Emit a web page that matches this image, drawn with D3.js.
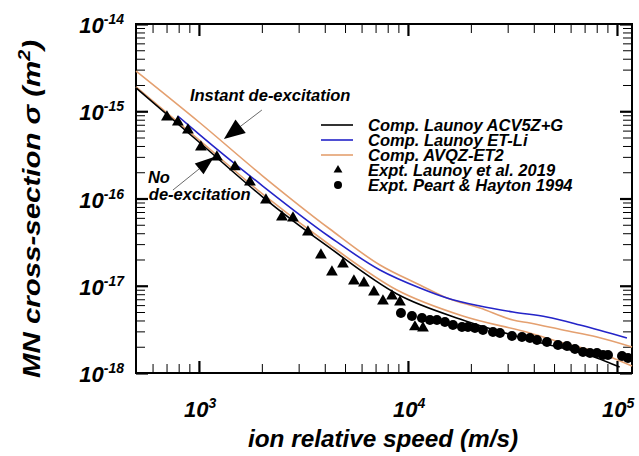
<!DOCTYPE html>
<html lang="en">
<head>
<meta charset="UTF-8">
<title>MN cross-section vs ion speed</title>
<script src="https://d3js.org/d3.v7.min.js"></script>
<style>
    body { margin: 0; background: #fff; }
    svg { display: block; }
    text { font-family: "Liberation Sans", Arial, sans-serif; font-weight: bold; font-style: italic; fill: #000; }
</style>
</head>
<body>
<svg id="chart" width="639" height="456"></svg>
<script>
// ion relative speed (m/s) and cross-section (m^2)
const acvSpeed = [500, 1000, 2020, 4230, 8860, 18300, 38300, 80200, 103000];
const acvSigma = [1.85e-15, 4.44e-16, 1.04e-16, 2.71e-17, 8.04e-18, 4.05e-18, 2.39e-18, 1.49e-18, 1.17e-18];

const etliSpeed = [793, 1000, 2020, 4230, 7345, 11410, 15370, 22110, 31800, 46240, 66530, 111600];
const etliSigma = [8.82e-16, 5.48e-16, 1.39e-16, 3.62e-17, 1.516e-17, 9.42e-18, 7.24e-18, 5.86e-18, 5.00e-18, 4.38e-18, 3.55e-18, 2.52e-18];

// AVQZ-ET2: upper curve = instant de-excitation, lower = no de-excitation
const avqzUpSpeed = [500, 1000, 2020, 4230, 7345, 11410, 15370, 22110, 31800, 38340, 55150, 80230, 118000];
const avqzUpSigma = [2.89e-15, 7.53e-16, 1.81e-16, 4.47e-17, 1.729e-17, 1.02e-17, 7.24e-18, 5.56e-18, 4.05e-18, 3.74e-18, 3.11e-18, 2.59e-18, 1.99e-18];
const avqzLowSpeed = [500, 1000, 2020, 4230, 8860, 18300, 38300, 55100, 80200, 118000];
const avqzLowSigma = [1.90e-15, 4.70e-16, 1.12e-16, 2.93e-17, 8.94e-18, 4.50e-18, 2.87e-18, 2.21e-18, 1.74e-18, 1.20e-18];

const launoySpeed = [703, 793, 886, 1022, 1219, 1487, 1754, 2092, 2495, 2818, 3323, 3834, 4329, 4887, 5514, 6159, 6877, 7594, 8385, 9157, 10800, 11800];
const launoySigma = [8.59e-16, 7.53e-16, 6.10e-16, 3.89e-16, 2.99e-16, 2.30e-16, 1.545e-16, 9.61e-17, 6.14e-17, 5.98e-17, 4.13e-17, 2.25e-17, 1.438e-17, 1.776e-17, 1.133e-17, 1.075e-17, 8.48e-18, 6.69e-18, 7.63e-18, 6.51e-18, 3.37e-18, 3.28e-18];

const peartSpeed = [9258, 10450, 11670, 12740, 13760, 15030, 16420, 18130, 19370, 20920, 22850, 25510, 27550, 31450, 35120, 38340, 41420, 46240, 52210, 57650, 62950, 68770, 74270, 80230, 85710, 90560, 105700, 112900];
const peartSigma = [4.87e-18, 4.50e-18, 4.27e-18, 4.05e-18, 4.05e-18, 3.84e-18, 3.55e-18, 3.37e-18, 3.37e-18, 3.28e-18, 3.11e-18, 2.95e-18, 2.87e-18, 2.66e-18, 2.59e-18, 2.52e-18, 2.39e-18, 2.27e-18, 2.09e-18, 2.04e-18, 1.88e-18, 1.74e-18, 1.695e-18, 1.695e-18, 1.61e-18, 1.61e-18, 1.566e-18, 1.485e-18];

const xMajor = [1e3, 1e4, 1e5];
const xMajorExp = ["3", "4", "5"];
const yMajor = [1e-18, 1e-17, 1e-16, 1e-15, 1e-14];
const yMajorExp = ["-18", "-17", "-16", "-15", "-14"];

const legendNames = ["Comp. Launoy ACV5Z+G", "Comp. Launoy ET-Li", "Comp. AVQZ-ET2", "Expt. Launoy et al. 2019", "Expt. Peart & Hayton 1994"];

const black = "#000", blue = "#2424c8", orange = "#e4a070";

const svg = d3.select("#chart");
const plotLeft = 136, plotRight = 632, plotTop = 24, plotBottom = 373;

const x = d3.scaleLog().domain([500, 118000]).range([plotLeft, plotRight]);
const y = d3.scaleLog().domain([1e-18, 1e-14]).range([plotBottom, plotTop]);

// minor ticks 2..9 in each decade inside the domain
const xMinor = [];
[100, 1000, 10000].forEach(d => { for (let k = 2; k < 10; k++) { const v = d * k; if (v > 500 && v < 118000) xMinor.push(v); } });
const yMinor = [];
[1e-18, 1e-17, 1e-16, 1e-15].forEach(d => { for (let k = 2; k < 10; k++) yMinor.push(d * k); });

function drawTicks(axis, transform, values, size, width) {
    const g = svg.append("g").attr("transform", transform)
        .call(axis.tickValues(values).tickSize(size).tickSizeOuter(0).tickFormat(""));
    g.select(".domain").remove();
    g.selectAll(".tick line").attr("stroke", "#000").attr("stroke-width", width);
}
// inward ticks on all four sides
drawTicks(d3.axisBottom(x), `translate(0,${plotBottom})`, xMinor, -9, 1);
drawTicks(d3.axisBottom(x), `translate(0,${plotBottom})`, xMajor, -12, 2.2);
drawTicks(d3.axisTop(x), `translate(0,${plotTop})`, xMinor, -9, 1);
drawTicks(d3.axisTop(x), `translate(0,${plotTop})`, xMajor, -12, 2.2);
drawTicks(d3.axisLeft(y), `translate(${plotLeft},0)`, yMinor, -9, 1);
drawTicks(d3.axisLeft(y), `translate(${plotLeft},0)`, yMajor, -12, 2.2);
drawTicks(d3.axisRight(y), `translate(${plotRight},0)`, yMinor, -9, 1);
drawTicks(d3.axisRight(y), `translate(${plotRight},0)`, yMajor, -12, 2.2);

svg.append("rect")
    .attr("x", plotLeft).attr("y", plotTop)
    .attr("width", plotRight - plotLeft).attr("height", plotBottom - plotTop)
    .attr("fill", "none").attr("stroke", "#000").attr("stroke-width", 2);

// tick labels: 10 with superscript exponent
xMajor.forEach((v, i) => {
    const t = svg.append("text").attr("x", x(v) - 15).attr("y", plotBottom + 44).attr("font-size", 22);
    t.append("tspan").text("10");
    t.append("tspan").attr("font-size", 14).attr("dy", -9).text(xMajorExp[i]);
});
yMajor.forEach((v, i) => {
    const t = svg.append("text").attr("x", 124).attr("y", y(v) + 9).attr("font-size", 22).attr("text-anchor", "end");
    t.append("tspan").text("10");
    t.append("tspan").attr("font-size", 14).attr("dy", -9).text(yMajorExp[i]);
});

// axis titles
svg.append("text")
    .attr("x", 248).attr("y", 447).attr("font-size", 23)
    .attr("textLength", 270).attr("lengthAdjust", "spacingAndGlyphs")
    .text("ion relative speed (m/s)");
const yt = svg.append("text")
    .attr("transform", "translate(40,378) rotate(-90)")
    .attr("font-size", 24)
    .attr("textLength", 338).attr("lengthAdjust", "spacingAndGlyphs");
yt.append("tspan").text("MN cross-section \u03c3 (m");
yt.append("tspan").attr("font-size", 16).attr("dy", -10).text("2");
yt.append("tspan").attr("dy", 10).text(")");

// curves
const line = d3.line().x(d => x(d[0])).y(d => y(d[1])).curve(d3.curveMonotoneX);
const curves = [
    [avqzUpSpeed, avqzUpSigma, orange],
    [avqzLowSpeed, avqzLowSigma, orange],
    [etliSpeed, etliSigma, blue],
    [acvSpeed, acvSigma, black]
];
curves.forEach(([vs, ss, c]) => {
    svg.append("path")
        .datum(d3.zip(vs, ss))
        .attr("d", line)
        .attr("fill", "none").attr("stroke", c).attr("stroke-width", 1.6);
});

// experimental points
svg.append("g").selectAll("path")
    .data(d3.zip(launoySpeed, launoySigma))
    .join("path")
    .attr("transform", d => `translate(${x(d[0])},${y(d[1])})`)
    .attr("d", d3.symbol(d3.symbolTriangle, 60))
    .attr("fill", "#000");
svg.append("g").selectAll("circle")
    .data(d3.zip(peartSpeed, peartSigma))
    .join("circle")
    .attr("cx", d => x(d[0])).attr("cy", d => y(d[1]))
    .attr("r", 5).attr("fill", "#000");

// annotations with arrows (positions in data units)
function arrow(from, to, len, half) {
    const x0 = x(from[0]), y0 = y(from[1]), x1 = x(to[0]), y1 = y(to[1]);
    const dx = x1 - x0, dy = y1 - y0, L = Math.hypot(dx, dy);
    const ux = dx / L, uy = dy / L;
    const bx = x1 - ux * len, by = y1 - uy * len;
    svg.append("line").attr("x1", x0).attr("y1", y0).attr("x2", bx).attr("y2", by)
        .attr("stroke", "#444").attr("stroke-width", 0.8);
    svg.append("path")
        .attr("d", `M${x1},${y1}L${bx - uy * half},${by + ux * half}L${bx + uy * half},${by - ux * half}Z`)
        .attr("fill", "#000");
}
arrow([2001, 1.033e-15], [1317, 4.81e-16], 21, 8.5);
arrow([751, 1.25e-16], [1180, 2.99e-16], 19, 7);

svg.append("text").attr("x", x(906)).attr("y", y(1.31e-15)).attr("font-size", 16.5).text("Instant de-excitation");
svg.append("text").attr("x", x(570)).attr("y", y(1.506e-16)).attr("font-size", 16.5).text("No");
svg.append("text").attr("x", x(576)).attr("y", y(9.61e-17)).attr("font-size", 16.5).text("de-excitation");

// legend
const leg = svg.append("g").attr("transform", "translate(320,125)");
const legKinds = ["line", "line", "line", "tri", "dot"];
const legColors = [black, blue, orange, "#000", "#000"];
legendNames.forEach((name, i) => {
    const yy = i * 15;
    if (legKinds[i] === "line") {
        leg.append("line").attr("x1", 1).attr("x2", 33).attr("y1", yy).attr("y2", yy)
            .attr("stroke", legColors[i]).attr("stroke-width", 1.6);
    } else if (legKinds[i] === "tri") {
        leg.append("path").attr("transform", `translate(18,${yy})`)
            .attr("d", d3.symbol(d3.symbolTriangle, 34)).attr("fill", "#000");
    } else {
        leg.append("circle").attr("cx", 18).attr("cy", yy).attr("r", 4).attr("fill", "#000");
    }
    leg.append("text").attr("x", 48).attr("y", yy + 6).attr("font-size", 16.5).text(name);
});
</script>
</body>
</html>
